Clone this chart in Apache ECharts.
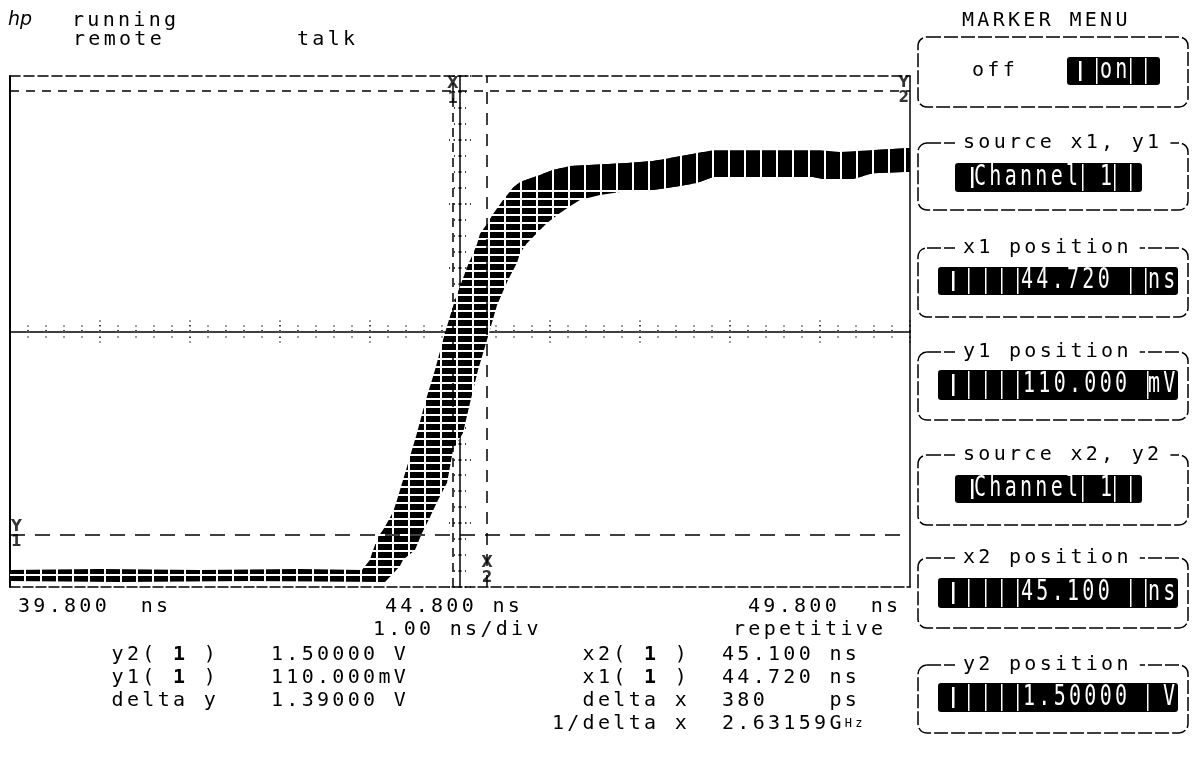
<!DOCTYPE html>
<html><head><meta charset="utf-8">
<script src="https://cdn.jsdelivr.net/npm/echarts@6/dist/echarts.min.js"></script>
<style>html,body{margin:0;padding:0;background:#fff}#c{width:1193px;height:770px}</style>
</head><body><div id="c"></div>
<script>
// ---------------- data ----------------
const timeRange = [39.8, 49.8];          // ns, 1.00 ns/div
const voltRange = [-0.053, 1.546];       // V
const upperEnvelope = [
  [39.8, 0.000], [40.8, 0.003], [41.911, 0.000], [43.022, 0.003], [43.711, 0.000],
  [43.8, 0.032], [43.822, 0.053], [43.889, 0.104], [43.944, 0.125], [43.989, 0.147],
  [44.056, 0.182], [44.1, 0.219], [44.211, 0.323], [44.322, 0.429], [44.411, 0.523],
  [44.522, 0.626], [44.633, 0.742], [44.744, 0.845], [44.889, 0.955], [44.944, 0.989],
  [44.989, 1.020], [45.022, 1.052], [45.1, 1.083], [45.167, 1.114], [45.278, 1.158],
  [45.389, 1.196], [45.467, 1.214], [45.656, 1.233], [45.833, 1.252], [46.022, 1.264],
  [46.656, 1.274], [46.944, 1.280], [47.322, 1.299], [47.611, 1.314], [48.133, 1.314],
  [48.8, 1.314], [49.022, 1.308], [49.356, 1.314], [49.8, 1.321]
];
const lowerEnvelope = [
  [39.8, -0.034], [41.022, -0.037], [42.467, -0.034], [43.967, -0.037], [44.044, -0.015],
  [44.133, 0.013], [44.167, 0.032], [44.3, 0.063], [44.378, 0.116], [44.467, 0.166],
  [44.556, 0.219], [44.656, 0.273], [44.689, 0.323], [44.722, 0.376], [44.833, 0.429],
  [44.911, 0.523], [45.0, 0.626], [45.1, 0.720], [45.211, 0.829], [45.333, 0.908],
  [45.433, 0.961], [45.467, 0.992], [45.544, 1.023], [45.656, 1.055], [45.767, 1.086],
  [45.911, 1.117], [46.044, 1.142], [46.133, 1.158], [46.356, 1.174], [46.578, 1.183],
  [46.944, 1.189], [47.244, 1.202], [47.433, 1.211], [47.611, 1.230], [48.722, 1.230],
  [48.833, 1.224], [49.167, 1.224], [49.389, 1.242], [49.8, 1.246]
];
const markerX = [44.72, 45.1];
const markerY = [0.11, 1.5];
const markerXLabels = ['X\n1', 'X\n2'];
const markerYLabels = ['Y\n1', 'Y\n2'];
const statusTexts = ['running', 'remote', 'talk'];
const timeTickLabels = ['39.800  ns', '44.800 ns', '49.800  ns'];
const sweepTexts = ['1.00 ns/div', 'repetitive'];
const yReadNames = ['y2( {b|1} )', 'y1( {b|1} )', 'delta y'];
const yReadValues = ['1.50000 V', '110.000mV', '1.39000 V'];
const xReadNames = ['x2( {b|1} )', 'x1( {b|1} )', 'delta x', '1/delta x'];
const xReadValues = ['45.100 ns', '44.720 ns', '380    ps', '2.63159G{s|Hz}'];
const menuTitle = 'MARKER MENU';
const menuOffLabel = 'off';
const menuBoxTitles = ['', 'source x1, y1', 'x1 position', 'y1 position', 'source x2, y2', 'x2 position', 'y2 position'];
const menuFieldTexts = [['on'], ['Channel', '1'], ['44.720', 'ns'], ['110.000', 'mV'], ['Channel', '1'], ['45.100', 'ns'], ['1.50000', 'V']];

// ---------------- wide character cells of the scope font ----------------
const LS = 3.3;
(function () {
  const P = CanvasRenderingContext2D.prototype;
  const setLS = (ctx) => { try { ctx.letterSpacing = /Mono/.test(ctx.font) ? LS + 'px' : '0px'; } catch (e) {} };
  const ft = P.fillText, st = P.strokeText, mt = P.measureText;
  P.fillText = function () { setLS(this); return ft.apply(this, arguments); };
  P.strokeText = function () { setLS(this); return st.apply(this, arguments); };
  P.measureText = function () { setLS(this); return mt.apply(this, arguments); };
})();

const MONO = '"DejaVu Sans Mono", monospace';
const SANS = '"DejaVu Sans", sans-serif';

function makePattern(rows) {
  const c = document.createElement('canvas');
  c.width = 16; c.height = 8;
  const g = c.getContext('2d');
  g.fillStyle = '#000'; g.fillRect(0, 0, 16, 8);
  g.fillStyle = '#fff'; g.fillRect(8, 0, 2, 8);
  if (rows) g.fillRect(0, 6, 16, 2);
  return { image: c, repeat: 'repeat' };
}
const patRows = makePattern(true);
const patCols = makePattern(false);
const HATCH_LIMIT_V = 1.19;

const richStyles = {
  b: { fontSize: 20, fontFamily: MONO, fontWeight: 'bold', fill: '#000' },
  s: { fontSize: 12, fontFamily: MONO, fill: '#000' }
};
function txt(x, y, text, o) {
  o = o || {};
  const el = {
    type: 'text', x: x, y: y, silent: true,
    style: {
      text: text, fill: o.fill || '#000', fontSize: o.size || 20,
      fontFamily: o.family || MONO, fontWeight: o.weight || 'normal',
      fontStyle: o.italic ? 'italic' : 'normal',
      align: o.align || 'left', verticalAlign: 'middle', rich: richStyles
    }
  };
  if (o.scaleY) el.scaleY = o.scaleY;
  if (o.bg) { el.style.backgroundColor = '#fff'; el.style.padding = [0, 8]; }
  return el;
}

// ---------------- graphic texts & menu panel ----------------
const g = [];
g.push(txt(8, 20, 'hp', { family: SANS, italic: true, size: 19 }));
g.push(txt(72, 21, statusTexts[0]));
g.push(txt(73, 40, statusTexts[1]));
g.push(txt(297, 40, statusTexts[2]));

const row = [607, 630, 655, 678, 701, 724];
g.push(txt(18, row[0], timeTickLabels[0]));
g.push(txt(385, row[0], timeTickLabels[1]));
g.push(txt(748, row[0], timeTickLabels[2]));
g.push(txt(373, row[1], sweepTexts[0]));
g.push(txt(733, row[1], sweepTexts[1]));
yReadNames.forEach((t, i) => g.push(txt(219, row[2 + i], t, { align: 'right' })));
yReadValues.forEach((t, i) => g.push(txt(271, row[2 + i], t)));
xReadNames.forEach((t, i) => g.push(txt(690, row[2 + i], t, { align: 'right' })));
xReadValues.forEach((t, i) => g.push(txt(722, row[2 + i], t)));

g.push(txt(962, 21, menuTitle));
const boxTops = [37, 143, 248, 352, 455, 558, 665];
const boxH = [70, 67, 69, 68, 70, 70, 68];
boxTops.forEach((top, i) => {
  g.push({ type: 'rect', silent: true, shape: { x: 918, y: top, width: 270, height: boxH[i], r: 9 },
    style: { fill: 'none', stroke: '#000', lineWidth: 1.5, lineDash: [14, 3] } });
  if (menuBoxTitles[i]) g.push(txt(955, top, menuBoxTitles[i], { bg: true }));
});
g.push(txt(972, 71, menuOffLabel));

// highlighted fields
const fields = [
  { x: 1067, y: 57, w: 93, h: 28, cursor: 1079, seps: [1096, 1130, 1145], tx: [1100] },
  { x: 955, y: 163, w: 187, h: 29, cursor: 971, seps: [1082, 1114, 1130], tx: [974, 1100] },
  { x: 938, y: 267, w: 240, h: 28, cursor: 952, seps: [968, 985, 1001, 1017, 1130, 1145], tx: [1021, 1148] },
  { x: 938, y: 370, w: 240, h: 30, cursor: 952, seps: [968, 985, 1001, 1017, 1147], tx: [1023, 1148] },
  { x: 955, y: 475, w: 187, h: 28, cursor: 971, seps: [1082, 1114, 1130], tx: [974, 1100] },
  { x: 938, y: 578, w: 240, h: 30, cursor: 952, seps: [968, 985, 1001, 1017, 1130, 1145], tx: [1021, 1148] },
  { x: 938, y: 683, w: 240, h: 29, cursor: 952, seps: [968, 985, 1001, 1017, 1147], tx: [1023, 1163] }
];
fields.forEach((f, i) => {
  g.push({ type: 'rect', silent: true, shape: { x: f.x, y: f.y, width: f.w, height: f.h, r: 3 }, style: { fill: '#000' } });
  g.push({ type: 'rect', silent: true, shape: { x: f.cursor, y: f.y + 4, width: 2.5, height: f.h - 8 }, style: { fill: '#fff' } });
  f.seps.forEach(sx => g.push({ type: 'rect', silent: true, shape: { x: sx, y: f.y + 1, width: 1.5, height: f.h - 2 }, style: { fill: '#fff' } }));
  menuFieldTexts[i].forEach((t, k) => g.push(txt(f.tx[k], f.y + f.h / 2, t, { fill: '#fff', scaleY: 1.4 })));
});

// ---------------- axes ----------------
const hidden = { axisLabel: { show: false }, splitLine: { show: false }, axisTick: { show: false } };
const dotTick = { color: '#000', width: 1.5, type: [1.5, 3.5] };
function divAxis(range, inside, withLine, split, isX) {
  return {
    type: 'value', min: -range, max: range, interval: 1,
    position: isX ? 'bottom' : 'left',
    axisLabel: { show: false }, splitLine: { show: false },
    axisLine: { show: withLine, onZero: true, onZeroAxisIndex: 2,
      lineStyle: isX ? { color: '#000', width: 1.5, type: [15, 3], dashOffset: 16.5 } : { color: '#000', width: 1.5 } },
    axisTick: { show: true, inside: inside, length: 11, lineStyle: dotTick },
    minorTick: { show: true, splitNumber: split, length: 6, lineStyle: dotTick }
  };
}

const chart = echarts.init(document.getElementById('c'), null, { renderer: 'canvas' });
chart.setOption({
  animation: false,
  backgroundColor: '#fff',
  grid: { left: 10, right: 283, top: 76, bottom: 183, containLabel: false, outerBoundsMode: 'none' },
  xAxis: [
    Object.assign({ type: 'value', min: timeRange[0], max: timeRange[1], position: 'bottom',
      axisLine: { onZero: false, lineStyle: { color: '#000', width: 1.5, type: [10, 3] } } }, hidden),
    Object.assign({ type: 'value', min: timeRange[0], max: timeRange[1], position: 'top',
      axisLine: { onZero: false, lineStyle: { color: '#000', width: 1.5, type: [10, 4] } } }, hidden),
    divAxis(5, true, true, 5, true),
    divAxis(5, false, false, 5, true)
  ],
  yAxis: [
    Object.assign({ type: 'value', min: voltRange[0], max: voltRange[1], position: 'left',
      axisLine: { onZero: false, lineStyle: { color: '#000', width: 2 } } }, hidden),
    Object.assign({ type: 'value', min: voltRange[0], max: voltRange[1], position: 'right',
      axisLine: { onZero: false, lineStyle: { color: '#000', width: 1.5 } } }, hidden),
    divAxis(4, true, true, 4, false),
    divAxis(4, false, false, 4, false)
  ],
  graphic: { elements: g },
  series: [
    {
      type: 'line', data: [], silent: true,
      markLine: {
        silent: true, animation: false, symbol: ['none', 'none'], label: { show: false },
        emphasis: { disabled: true },
        data: [
          { xAxis: markerX[0], lineStyle: { color: '#000', width: 1.5, type: [9, 6] } },
          { xAxis: markerX[1], lineStyle: { color: '#000', width: 1.5, type: [12, 9] } },
          { yAxis: markerY[0], lineStyle: { color: '#000', width: 1.5, type: [15, 10] } },
          { yAxis: markerY[1], lineStyle: { color: '#000', width: 1.5, type: [9, 7] } }
        ]
      }
    },
    {
      type: 'custom', coordinateSystem: 'cartesian2d', silent: true, z: 3,
      data: [0],
      renderItem: function (params, api) {
        const pts = upperEnvelope.map(p => api.coord(p))
          .concat(lowerEnvelope.slice().reverse().map(p => api.coord(p)));
        const cs = params.coordSys;
        const cut = api.coord([timeRange[0], HATCH_LIMIT_V])[1];
        return {
          type: 'group', children: [
            { type: 'polygon', shape: { points: pts }, style: { fill: patRows } },
            { type: 'polygon', shape: { points: pts }, style: { fill: patCols },
              clipPath: { type: 'rect', shape: { x: cs.x, y: cs.y - 5, width: cs.width, height: cut - cs.y + 5 } } }
          ]
        };
      }
    },
    {
      type: 'scatter', symbolSize: 0, silent: true, z: 4,
      label: { show: true, color: '#000', fontFamily: SANS, fontWeight: 'bold', fontSize: 15, lineHeight: 15, distance: 1 },
      data: [
        { value: [markerX[0], voltRange[1]], label: { position: 'bottom', formatter: markerXLabels[0] } },
        { value: [markerX[1], voltRange[0]], label: { position: 'top', formatter: markerXLabels[1] } },
        { value: [timeRange[0], markerY[0]], label: { position: 'right', formatter: markerYLabels[0] } },
        { value: [timeRange[1], markerY[1]], label: { position: 'left', formatter: markerYLabels[1] } }
      ]
    }
  ]
});
</script>
</body></html>
